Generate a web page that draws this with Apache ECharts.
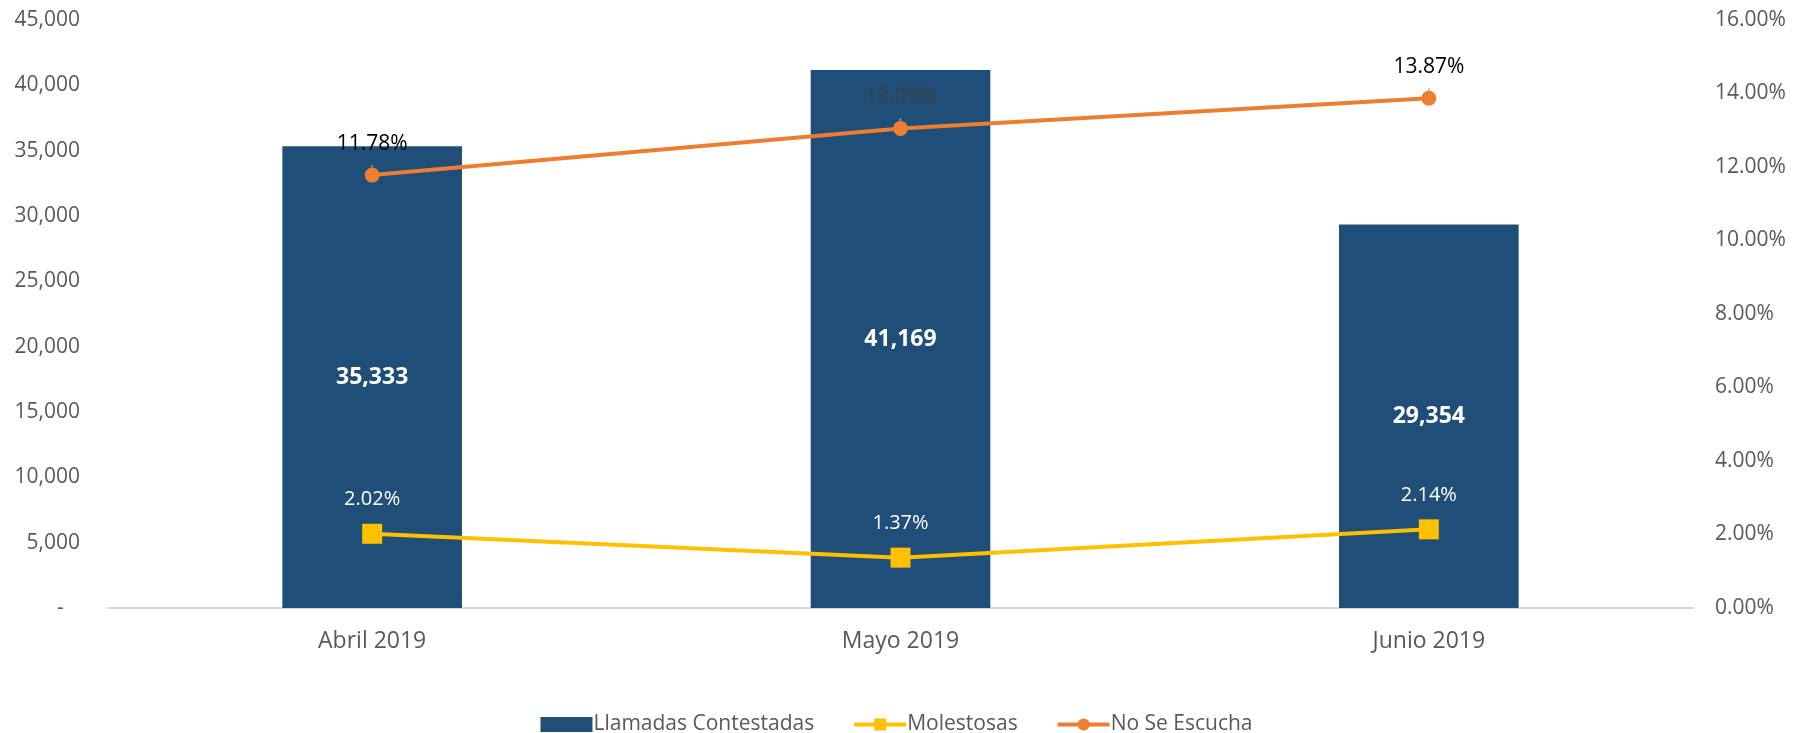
<!DOCTYPE html>
<html>
<head>
<meta charset="utf-8">
<script src="https://cdn.jsdelivr.net/npm/echarts@6/dist/echarts.min.js"></script>
<style>
  html, body { margin: 0; padding: 0; background: #fff; }
  #chart { width: 1793px; height: 733px; }
</style>
</head>
<body>
<div id="chart"></div>
<script>
// datos del gráfico
var meses = ['Abril 2019', 'Mayo 2019', 'Junio 2019'];
var llamadasContestadas = [35333, 41169, 29354];
var molestosas = [2.02, 1.37, 2.14];
var noSeEscucha = [11.78, 13.05, 13.87];
var colorEtiquetaNoSe = ['#000000', '#404040', '#000000'];

var fuente = '"Open Sans", "Noto Sans", sans-serif';
var gris = '#595959';

var myChart = echarts.init(document.getElementById('chart'));

function fmtMiles(v) {
  if (v === 0) return '-   ';
  return v.toString().replace(/\B(?=(\d{3})+(?!\d))/g, ',');
}

myChart.setOption({
  animation: false,
  textStyle: { fontFamily: fuente },
  grid: { left: 108, right: 100, top: 20, bottom: 125 },
  legend: {
    top: 709,
    left: 'center',
    itemGap: 38,
    itemWidth: 52,
    itemHeight: 15,
    lineStyle: { width: 4 },
    textStyle: { color: gris, fontSize: 21, fontFamily: fuente, padding: [0, 0, 0, -4] },
    data: [
      { name: 'Llamadas Contestadas', icon: 'rect' },
      { name: 'Molestosas' },
      { name: 'No Se Escucha' }
    ]
  },
  xAxis: {
    type: 'category',
    data: meses,
    axisTick: { show: false },
    axisLine: { lineStyle: { color: '#d9d9d9', width: 2 } },
    axisLabel: { color: gris, fontSize: 23, margin: 22 }
  },
  yAxis: [
    {
      type: 'value',
      min: 0,
      max: 45000,
      interval: 5000,
      splitLine: { show: false },
      axisLine: { show: false },
      axisTick: { show: false },
      axisLabel: { color: gris, fontSize: 21, margin: 28, formatter: fmtMiles }
    },
    {
      type: 'value',
      min: 0,
      max: 16,
      interval: 2,
      splitLine: { show: false },
      axisLine: { show: false },
      axisTick: { show: false },
      axisLabel: { color: gris, fontSize: 21, margin: 22, formatter: function (v) { return v.toFixed(2) + '%'; } }
    }
  ],
  series: [
    {
      name: 'Llamadas Contestadas',
      type: 'bar',
      yAxisIndex: 0,
      barWidth: '34%',
      itemStyle: { color: '#1f4e79' },
      label: {
        show: true,
        position: 'inside',
        color: '#ffffff',
        fontWeight: 'bold',
        fontSize: 23,
        formatter: function (p) { return fmtMiles(p.value); }
      },
      data: llamadasContestadas
    },
    {
      name: 'Molestosas',
      type: 'line',
      yAxisIndex: 1,
      symbol: 'rect',
      symbolSize: 20,
      lineStyle: { color: '#ffc000', width: 4 },
      itemStyle: { color: '#ffc000' },
      label: {
        show: true,
        position: 'top',
        distance: 14,
        color: '#ffffff',
        fontSize: 20,
        formatter: function (p) { return p.value.toFixed(2) + '%'; }
      },
      data: molestosas
    },
    {
      name: 'No Se Escucha',
      type: 'line',
      yAxisIndex: 1,
      symbol: 'circle',
      symbolSize: 15,
      lineStyle: { color: '#ed7d31', width: 4 },
      itemStyle: { color: '#ed7d31' },
      label: {
        show: true,
        position: 'top',
        distance: 13,
        fontSize: 21,
        formatter: function (p) { return p.value.toFixed(2) + '%'; }
      },
      labelLine: { show: true, lineStyle: { color: '#a6a6a6', width: 1.5 } },
      data: noSeEscucha.map(function (v, i) {
        return { value: v, label: { color: colorEtiquetaNoSe[i] } };
      })
    }
  ]
});
</script>
</body>
</html>
